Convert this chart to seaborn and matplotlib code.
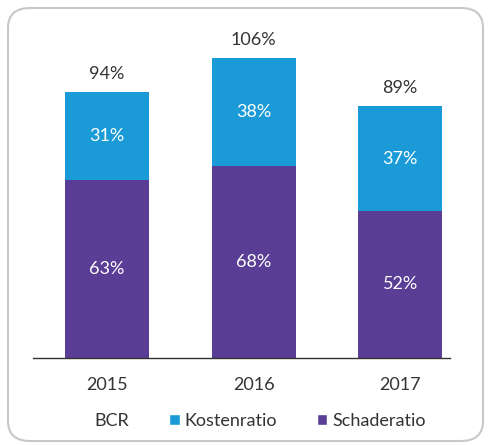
import pandas as pd
import seaborn as sns
import matplotlib.pyplot as plt
from matplotlib.patches import Patch, FancyBboxPatch

# Data
jaren = ['2015', '2016', '2017']
schaderatio = [63, 68, 52]
kostenratio = [31, 38, 37]
bcr = [94, 106, 89]

blauw = '#1A9BD7'
paars = '#5A3E95'

df = pd.DataFrame({'jaar': jaren, 'schade': schaderatio, 'kosten': kostenratio, 'bcr': bcr})

sns.set_style('white')
plt.rcParams['font.family'] = ['Lato', 'DejaVu Sans']

fig = plt.figure(figsize=(4.9, 4.45), dpi=100)
ax = fig.add_axes([33 / 490, 87 / 445, 417 / 490, 338 / 445])

# Gestapelde balken: totaal (blauw) met schade (paars) eroverheen
sns.barplot(data=df, x='jaar', y='bcr', color=blauw, width=0.573, saturation=1, linewidth=0, ax=ax)
sns.barplot(data=df, x='jaar', y='schade', color=paars, width=0.573, saturation=1, linewidth=0, ax=ax)

for i in range(len(df)):
    ax.text(i, df['schade'].iloc[i] / 2, f"{df['schade'].iloc[i]}%", ha='center', va='center',
            color='white', fontsize=13)
    ax.text(i, df['schade'].iloc[i] + df['kosten'].iloc[i] / 2, f"{df['kosten'].iloc[i]}%",
            ha='center', va='center', color='white', fontsize=13)
    ax.annotate(f"{df['bcr'].iloc[i]}%", (i, df['bcr'].iloc[i]), textcoords='offset points',
                xytext=(0, 13), ha='center', va='center', color='#333333', fontsize=13)

ax.set_xlim(-0.505, 2.34)
ax.set_ylim(0, 119.5)
ax.set_xlabel('')
ax.set_ylabel('')
ax.set_yticks([])
sns.despine(ax=ax, left=True, right=True, top=True)
ax.spines['bottom'].set_color('#333333')
ax.spines['bottom'].set_linewidth(1)
ax.tick_params(axis='x', length=0, pad=14, labelsize=13, labelcolor='#333333')

# Legenda onderaan
handles = [Patch(facecolor='none', edgecolor='none', label='BCR'),
           Patch(facecolor=blauw, label='Kostenratio'),
           Patch(facecolor=paars, label='Schaderatio')]
fig.legend(handles=handles, loc='center', bbox_to_anchor=(0.515, 24 / 445), ncol=3, frameon=False,
           fontsize=13, handlelength=0.6, handleheight=0.6, handletextpad=0.25, columnspacing=2.2,
           labelcolor='#333333')

# Afgeronde rand rond de figuur
rand = FancyBboxPatch((8 / 490, 4 / 445), 475 / 490, 433 / 445,
                      boxstyle='round,pad=0,rounding_size=0.045', transform=fig.transFigure,
                      facecolor='none', edgecolor='#C8C8C8', linewidth=1.5)
fig.patches.append(rand)

plt.savefig('out.png', dpi=100)
plt.close()
